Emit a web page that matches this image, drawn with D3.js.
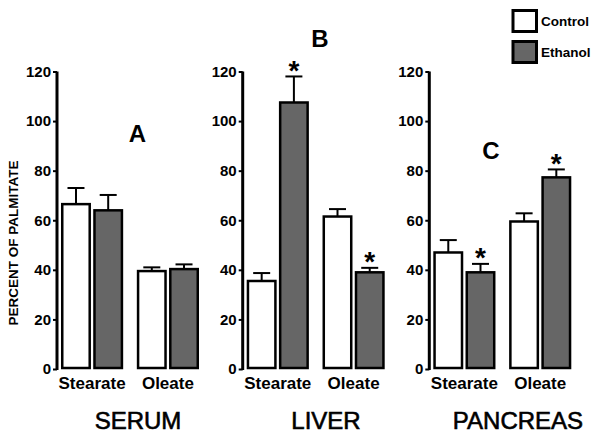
<!DOCTYPE html>
<html><head><meta charset="utf-8">
<script src="https://cdn.jsdelivr.net/npm/d3@7/dist/d3.min.js"></script>
<style>body{margin:0;background:#fff}svg{display:block;font-family:"Liberation Sans",Arial,sans-serif}</style>
</head><body><svg id="c" width="601" height="439"></svg>
<script>
const categories = ["Stearate", "Oleate"];
const tissues = ["SERUM", "LIVER", "PANCREAS"];
const panelLetters = ["A", "B", "C"];
const seriesNames = ["Control", "Ethanol"];
const controlMean = [[66.5, 39.5], [35.5, 61.5], [47, 59.5]];
const controlErr  = [[6.5, 1.5], [3.2, 3.0], [5.0, 3.3]];
const ethanolMean = [[64, 40.3], [107.5, 39], [39, 77.3]];
const ethanolErr  = [[6.2, 1.9], [10.5, 1.8], [3.4, 3.2]];
const ethanolSig  = [[false, false], [true, true], [true, true]];
const yTicks = [0, 20, 40, 60, 80, 100, 120];
const yLabel = "PERCENT OF PALMITATE";

const svg = d3.select("#c");
const colors = {Control: "#ffffff", Ethanol: "#666666"};
const y = d3.scaleLinear().domain([0, 120]).range([369, 71.5]);
const axisX = [57, 242.7, 429.3];
const letterPos = [[137.5, 142], [320, 46.5], [491, 159]];
const tissueX = [138, 326, 518];

tissues.forEach((t, p) => {
  const ax = axisX[p];
  const g = svg.append("g");
  const xg = d3.scaleBand().domain(categories).range([ax + 4, ax + 142]).paddingInner(0.18).paddingOuter(0);
  const xs = d3.scaleBand().domain(seriesNames).range([0, xg.bandwidth()]).paddingInner(0.07);

  const yAxis = d3.axisLeft(y).tickValues(yTicks).tickSize(4).tickPadding(2);
  const a = g.append("g").attr("transform", `translate(${ax},0)`).call(yAxis);
  a.select(".domain").attr("stroke", "#000").attr("stroke-width", 3).attr("d", `M0,${y(120)}V${y(0)+1}`);
  a.selectAll(".tick line").attr("stroke", "#000").attr("stroke-width", 2);
  a.selectAll(".tick text").attr("font-size", 15).attr("font-weight", "bold").attr("fill", "#000")
    .attr("font-family", '"Liberation Sans",Arial,sans-serif');

  categories.forEach((c, i) => {
    const data = [
      {s: "Control", v: controlMean[p][i], e: controlErr[p][i], sig: false},
      {s: "Ethanol", v: ethanolMean[p][i], e: ethanolErr[p][i], sig: ethanolSig[p][i]}
    ];
    data.forEach(d => {
      const x0 = xg(c) + xs(d.s), w = xs.bandwidth(), cx = x0 + w / 2;
      const top = y(d.v + d.e);
      g.append("line").attr("x1", cx).attr("x2", cx).attr("y1", y(d.v)).attr("y2", top)
        .attr("stroke", "#000").attr("stroke-width", 2);
      g.append("line").attr("x1", cx - 8.5).attr("x2", cx + 8.5).attr("y1", top).attr("y2", top)
        .attr("stroke", "#000").attr("stroke-width", 2);
      g.append("rect").attr("x", x0 + 1.25).attr("y", y(d.v)).attr("width", w - 2.5).attr("height", y(0) - y(d.v) - 1)
        .attr("fill", colors[d.s]).attr("stroke", "#000").attr("stroke-width", 2.5);
      if (d.sig) {
        g.append("text").attr("x", cx).attr("y", top + 3.5).attr("text-anchor", "middle")
          .attr("font-size", 28).attr("font-weight", "bold").text("*");
      }
    });
    g.append("text").attr("x", xg(c) + xg.bandwidth() / 2).attr("y", 389).attr("text-anchor", "middle")
      .attr("font-size", 17).attr("font-weight", "bold").text(c);
  });

  g.append("text").attr("x", letterPos[p][0]).attr("y", letterPos[p][1]).attr("text-anchor", "middle")
    .attr("font-size", 24).attr("font-weight", "bold").text(panelLetters[p]);
  g.append("text").attr("x", tissueX[p]).attr("y", 429).attr("text-anchor", "middle")
    .attr("font-size", 24).attr("stroke", "#000").attr("stroke-width", 0.6).text(t);
});

svg.append("text").attr("transform", "translate(18,243) rotate(-90)").attr("text-anchor", "middle")
  .attr("font-size", 13.5).attr("font-weight", "bold").text(yLabel);

seriesNames.forEach((s, i) => {
  const ly = 9.5 + i * 31;
  svg.append("rect").attr("x", 513).attr("y", ly + 1).attr("width", 23.5).attr("height", 21)
    .attr("fill", colors[s]).attr("stroke", "#000").attr("stroke-width", 3);
  svg.append("text").attr("x", 541).attr("y", ly + 16.5).attr("font-size", 13.5).attr("font-weight", "bold").text(s);
});
</script></body></html>
